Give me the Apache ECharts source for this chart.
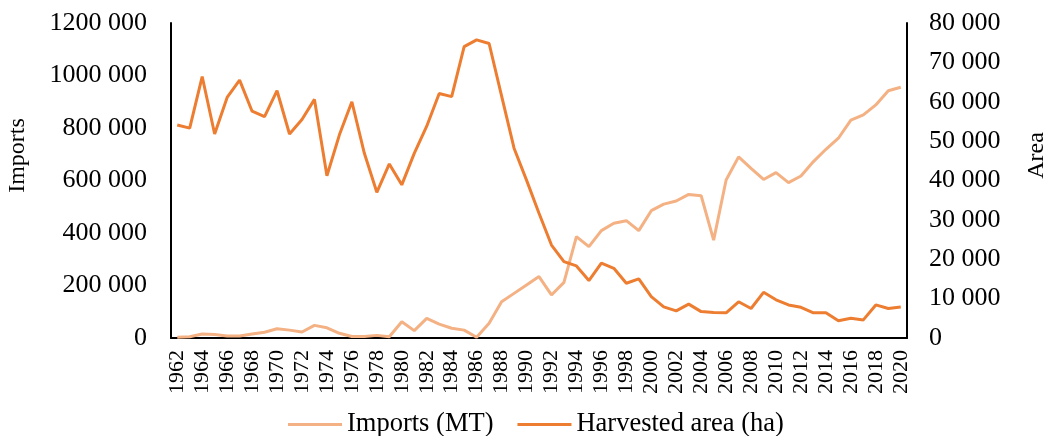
<!DOCTYPE html>
<html>
<head>
<meta charset="utf-8">
<script src="https://cdn.jsdelivr.net/npm/echarts@6/dist/echarts.min.js"></script>
<style>
  html, body { margin: 0; padding: 0; background: #fff; }
  #chart { width: 1051px; height: 436px; }
</style>
</head>
<body>
<div id="chart"></div>
<script>
const years = ['1962','1963','1964','1965','1966','1967','1968','1969','1970','1971',
  '1972','1973','1974','1975','1976','1977','1978','1979','1980','1981',
  '1982','1983','1984','1985','1986','1987','1988','1989','1990','1991',
  '1992','1993','1994','1995','1996','1997','1998','1999','2000','2001',
  '2002','2003','2004','2005','2006','2007','2008','2009','2010','2011',
  '2012','2013','2014','2015','2016','2017','2018','2019','2020'];

// Imports (MT)
const imports = [3000, 5000, 15000, 13000, 8000, 8000, 15000, 22000, 35000, 30000,
  23000, 48000, 39000, 18000, 6000, 6000, 10000, 5000, 62000, 28000,
  75000, 53000, 37000, 30000, 3000, 56000, 138000, 170000, 202000, 234000,
  164000, 212000, 386000, 348000, 409000, 437000, 447000, 409000, 485000, 510000,
  522000, 547000, 542000, 373000, 602000, 690000, 646000, 604000, 630000, 592000,
  617000, 672000, 719000, 761000, 830000, 850000, 888000, 942000, 955000];

// Harvested area (ha)
const area = [54100, 53300, 66400, 51800, 61100, 65500, 57600, 56200, 62800, 51800,
  55500, 60600, 41200, 51600, 60000, 46900, 37000, 44200, 38900, 46900,
  53800, 62100, 61300, 74000, 75700, 74800, 61500, 48200, 40100, 31700,
  23600, 19400, 18300, 14600, 19000, 17700, 13900, 15000, 10500, 7900,
  6900, 8600, 6700, 6500, 6400, 9200, 7500, 11600, 9700, 8400,
  7800, 6400, 6400, 4400, 5000, 4600, 8400, 7500, 7900];

function fmt(v) {
  if (v < 1000) return String(v);
  const hi = Math.floor(v / 1000);
  const lo = String(v % 1000).padStart(3, '0');
  return hi + ' ' + lo;
}

const chart = echarts.init(document.getElementById('chart'));
const font = '"Liberation Serif", "Times New Roman", serif';

const option = {
  animation: false,
  textStyle: { fontFamily: font, color: '#000' },
  color: ['#F4B183', '#ED7D31'],
  grid: { left: 171, right: 144, top: 23, bottom: 98, outerBoundsMode: 'none', containLabel: false },
  legend: {
    top: 406,
    left: 283,
    itemWidth: 54,
    itemHeight: 3,
    itemGap: 24,
    icon: 'rect',
    textStyle: { fontFamily: font, fontSize: 26.5, color: '#000' },
    data: ['Imports (MT)', 'Harvested area (ha)']
  },
  xAxis: {
    type: 'category',
    data: years,
    boundaryGap: true,
    axisLine: { lineStyle: { color: '#000', width: 2 } },
    axisTick: { show: false },
    axisLabel: {
      interval: 1,
      rotate: 90,
      margin: 12,
      fontFamily: font,
      fontSize: 22,
      color: '#000'
    }
  },
  yAxis: [{
    type: 'value',
    min: 0,
    max: 1200000,
    interval: 200000,
    name: 'Imports',
    nameLocation: 'middle',
    nameRotate: 90,
    nameGap: 141,
    nameTextStyle: { fontFamily: font, fontSize: 24, color: '#000', padding: [0, 0, 0, 50] },
    axisLine: { show: true, lineStyle: { color: '#000', width: 2 } },
    axisTick: { show: false },
    splitLine: { show: false },
    axisLabel: { formatter: fmt, margin: 24, fontFamily: font, fontSize: 26, color: '#000' }
  }, {
    type: 'value',
    position: 'right',
    min: 0,
    max: 80000,
    interval: 10000,
    name: 'Area',
    nameLocation: 'middle',
    nameRotate: 90,
    nameGap: 118,
    nameTextStyle: { fontFamily: font, fontSize: 24, color: '#000', padding: [0, 0, 0, 50] },
    axisLine: { show: true, lineStyle: { color: '#000', width: 2 } },
    axisTick: { show: false },
    splitLine: { show: false },
    axisLabel: { formatter: fmt, margin: 22, fontFamily: font, fontSize: 26, color: '#000' }
  }],
  series: [{
    name: 'Imports (MT)',
    type: 'line',
    yAxisIndex: 0,
    data: imports,
    showSymbol: false,
    lineStyle: { width: 3, color: '#F4B183' },
    itemStyle: { color: '#F4B183' }
  }, {
    name: 'Harvested area (ha)',
    type: 'line',
    yAxisIndex: 1,
    data: area,
    showSymbol: false,
    lineStyle: { width: 3, color: '#ED7D31' },
    itemStyle: { color: '#ED7D31' }
  }]
};

chart.setOption(option);
</script>
</body>
</html>
